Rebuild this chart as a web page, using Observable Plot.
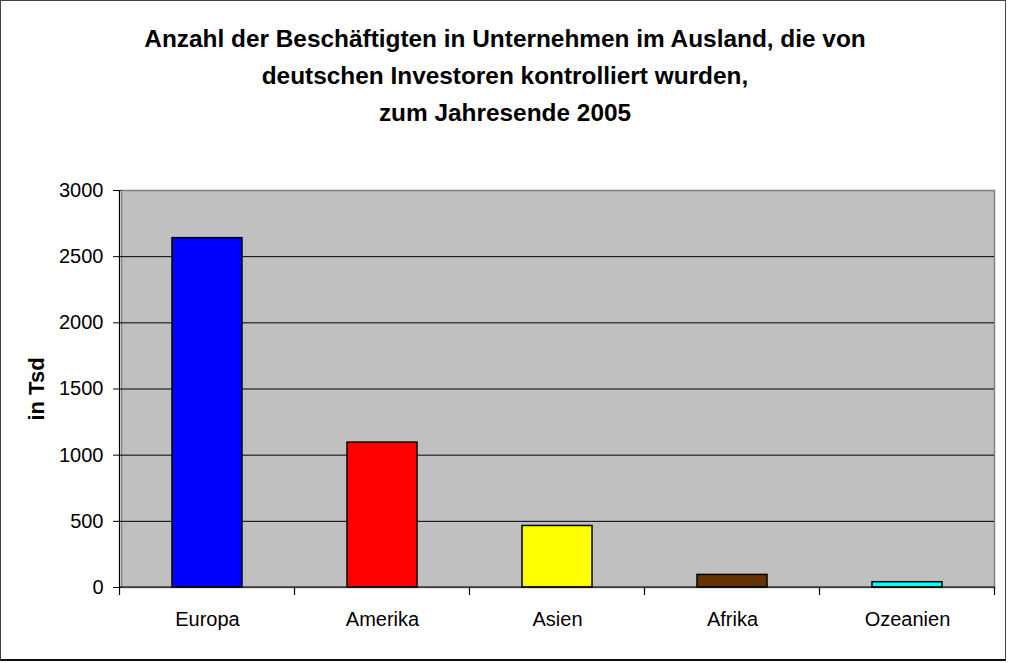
<!DOCTYPE html>
<html>
<head>
<meta charset="utf-8">
<script src="https://cdn.jsdelivr.net/npm/d3@7"></script>
<script src="https://cdn.jsdelivr.net/npm/@observablehq/plot@0.6"></script>
<style>
  html, body { margin: 0; padding: 0; background: white; }
  #wrap { position: relative; width: 1010px; height: 663px; overflow: hidden; }
  #title { position: absolute; left: 0; top: 20px; width: 1010px; text-align: center;
    font-family: "Liberation Sans", Arial, sans-serif; font-weight: bold; font-size: 24.4px;
    line-height: 37px; color: black; }
  #border { position: absolute; left: 0; top: 0; width: 1004px; height: 658px;
    border: 1px solid #444; border-bottom: 2px solid #111; pointer-events: none; }
  svg { display: block; }
</style>
</head>
<body>
<div id="wrap">
  <div id="chart"></div>
  <div id="title"></div>
  <div id="border"></div>
</div>
<script>
const categories = ["Europa", "Amerika", "Asien", "Afrika", "Ozeanien"];
const values = [2640, 1095, 465, 95, 40];
const colors = ["#0000ff", "#ff0000", "#ffff00", "#663300", "#00ffff"];
const yTicks = [0, 500, 1000, 1500, 2000, 2500, 3000];
const titleLines = [
  "Anzahl der Beschäftigten in Unternehmen im Ausland, die von",
  "deutschen Investoren kontrolliert wurden,",
  "zum Jahresende 2005"
];
const yLabel = "in Tsd";

const data = categories.map((c, i) => ({region: c, value: values[i], color: colors[i]}));

document.getElementById("title").innerHTML = titleLines.join("<br>");

function axisLines(index, scales, vals, dims) {
  const x = scales.x, y = scales.y;
  const n = categories.length;
  const step = (x && x.step) ? x.step() : (dims.width - dims.marginLeft - dims.marginRight) / n;
  const bw = (x && x.bandwidth) ? x.bandwidth() : step * 0.4;
  const bounds = categories.map(c => x(c) + bw / 2 - step / 2);
  bounds.push(bounds[n - 1] + step);
  const y0 = y(0), yTop = y(3000);
  const g = d3.create("svg:g").attr("stroke", "black").attr("stroke-width", 1.2);
  g.append("line").attr("x1", bounds[0]).attr("x2", bounds[n]).attr("y1", y0).attr("y2", y0);
  g.append("line").attr("x1", bounds[0]).attr("x2", bounds[0]).attr("y1", yTop).attr("y2", y0 + 8);
  bounds.slice(1).forEach(b => {
    g.append("line").attr("x1", b).attr("x2", b).attr("y1", y0).attr("y2", y0 + 8);
  });
  return g.node();
}

const plot = Plot.plot({
  width: 1010,
  height: 663,
  marginLeft: 121,
  marginRight: 16,
  marginTop: 190,
  marginBottom: 76,
  style: {fontFamily: "'Liberation Sans', Arial, sans-serif", fontSize: "20px", color: "black", background: "transparent", overflow: "visible"},
  x: {domain: categories, paddingInner: 0.6, paddingOuter: 0.29, label: null, axis: null},
  y: {domain: [0, 3000], label: null, axis: null},
  color: {type: "identity"},
  marks: [
    Plot.frame({fill: "#c0c0c0", stroke: "#808080", strokeWidth: 1.5}),
    Plot.ruleY(yTicks.filter(t => t > 0 && t < 3000), {stroke: "black", strokeWidth: 1}),
    Plot.barY(data, {x: "region", y: "value", fill: "color", stroke: "black", strokeWidth: 1.5}),
    axisLines,
    Plot.axisY({ticks: yTicks, tickSize: 8, tickPadding: 10, fontSize: 20, stroke: "black", tickFormat: d => String(d)}),
    Plot.axisX({tickSize: 0, tickPadding: 24, fontSize: 20}),
    Plot.text([yLabel], {frameAnchor: "left", dx: -85, rotate: -90, textAnchor: "middle", fontWeight: "bold", fontSize: 22, text: d => d})
  ]
});
document.getElementById("chart").appendChild(plot);
</script>
</body>
</html>
